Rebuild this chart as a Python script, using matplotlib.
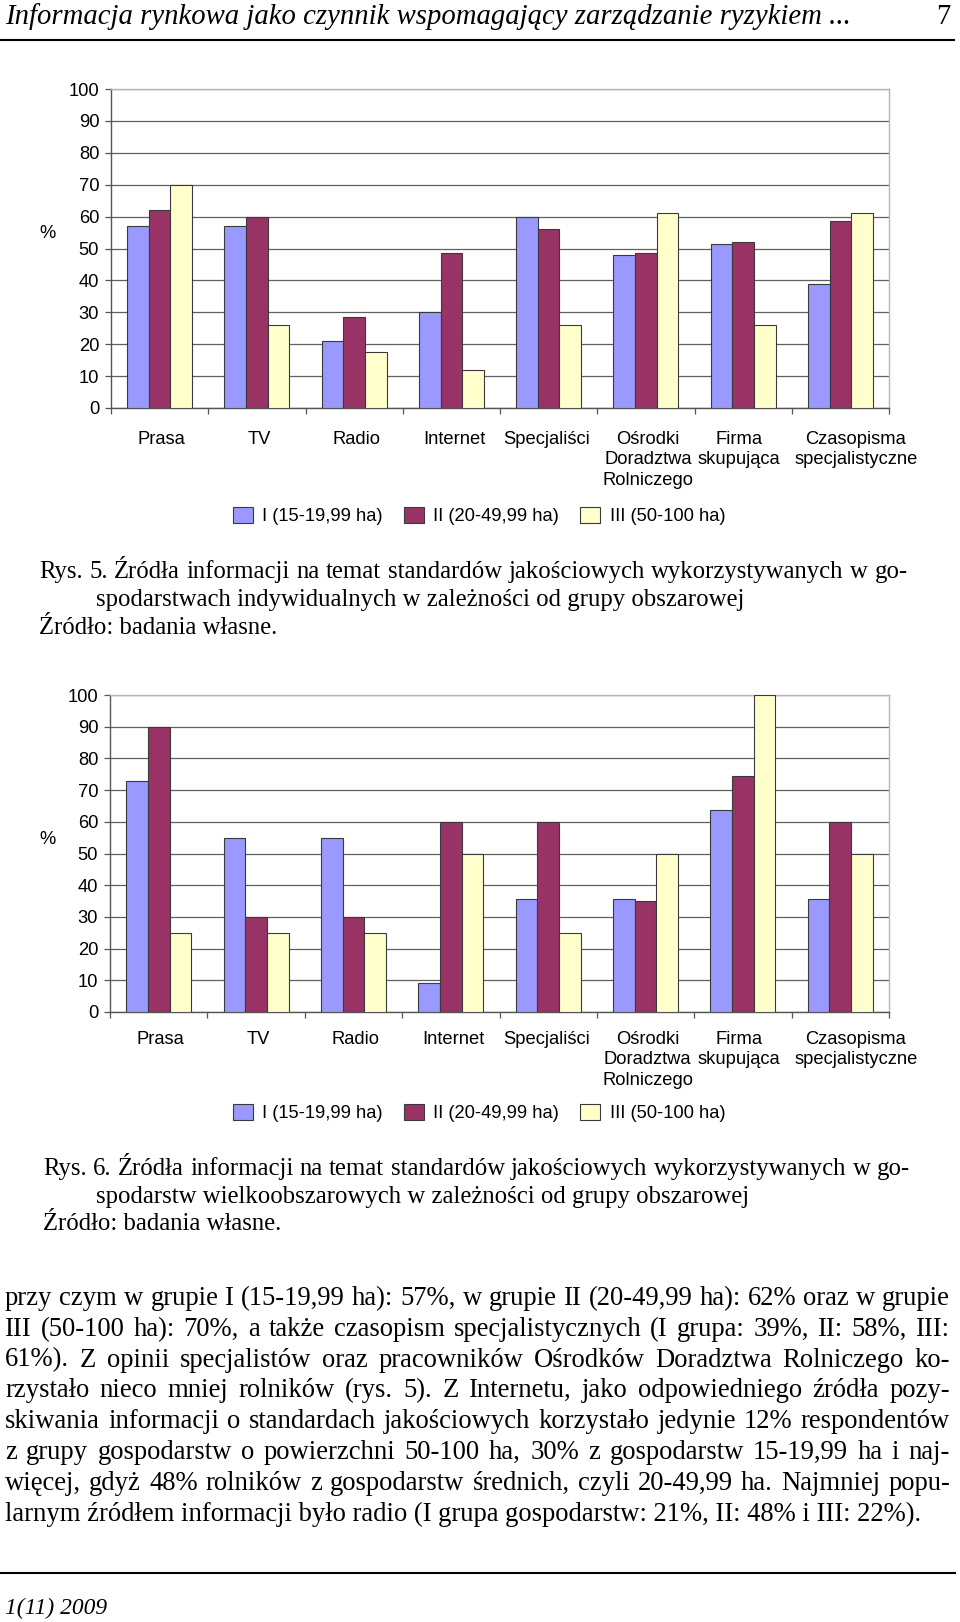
import matplotlib
matplotlib.use('Agg')
import matplotlib.pyplot as plt
import matplotlib.transforms as mtrans
from matplotlib.lines import Line2D
from matplotlib.patches import Patch
import numpy as np

W, H = 960, 1622

kategorie = ['Prasa', 'TV', 'Radio', 'Internet', 'Specjaliści',
             'Ośrodki\nDoradztwa\nRolniczego', 'Firma\nskupująca',
             'Czasopisma\nspecjalistyczne']
grupy = ['I (15-19,99 ha)', 'II (20-49,99 ha)', 'III (50-100 ha)']
kolory = ['#9999ff', '#993366', '#ffffcc']

# Rys. 5 - gospodarstwa indywidualne
rys5_g1 = [57, 57, 21, 30, 60, 48, 51.4, 39]
rys5_g2 = [62, 60, 28.5, 48.6, 56, 48.7, 52, 58.5]
rys5_g3 = [70, 26, 17.5, 12, 26, 61, 26, 61]

# Rys. 6 - gospodarstwa wielkoobszarowe
rys6_g1 = [73, 55, 55, 9, 35.5, 35.5, 63.6, 35.5]
rys6_g2 = [90, 30, 30, 60, 60, 35, 74.4, 60]
rys6_g3 = [25, 25, 25, 50, 25, 50, 100, 50]

naglowek = 'Informacja rynkowa jako czynnik wspomagający zarządzanie ryzykiem ...'
stopka = '1(11) 2009'

rys5_podpis = ['Rys. 5. Źródła informacji na temat standardów jakościowych wykorzystywanych w go-',
               'spodarstwach indywidualnych w zależności od grupy obszarowej',
               'Źródło: badania własne.']
rys6_podpis = ['Rys. 6. Źródła informacji na temat standardów jakościowych wykorzystywanych w go-',
               'spodarstw wielkoobszarowych w zależności od grupy obszarowej',
               'Źródło: badania własne.']

tekst = [
    'przy czym w grupie I (15-19,99 ha): 57%, w grupie II (20-49,99 ha): 62% oraz w grupie',
    'III (50-100 ha): 70%, a także czasopism specjalistycznych (I grupa: 39%, II: 58%, III:',
    '61%). Z opinii specjalistów oraz pracowników Ośrodków Doradztwa Rolniczego ko-',
    'rzystało nieco mniej rolników (rys. 5). Z Internetu, jako odpowiedniego źródła pozy-',
    'skiwania informacji o standardach jakościowych korzystało jedynie 12% respondentów',
    'z grupy gospodarstw o powierzchni 50-100 ha, 30% z gospodarstw 15-19,99 ha i naj-',
    'więcej, gdyż 48% rolników z gospodarstw średnich, czyli 20-49,99 ha. Najmniej popu-',
    'larnym źródłem informacji było radio (I grupa gospodarstw: 21%, II: 48% i III: 22%).',
]

SANS = 'Liberation Sans'
SERIF = 'Liberation Serif'
FS = 13.2
# przesuniecie etykiet osi x (px), jak w oryginale Excela
przesun = [2, 2, 2, 3, -2, 2, -4, 15.5]

fig = plt.figure(figsize=(W / 100, H / 100), dpi=100)
r = fig.canvas.get_renderer()


def fx(x):
    return x / W


def fy(y):
    return 1 - y / H


def szer(s, size, style='normal'):
    t = fig.text(0, 0, s, fontsize=size, family=SERIF, style=style)
    w = t.get_window_extent(renderer=r).width
    t.remove()
    return w


def dopasuj(s, width, style='normal'):
    return 10 * width / szer(s, 10, style)


def wiersz(s, x0, y, size, x1=None, style='normal'):
    if x1 is None:
        fig.text(fx(x0), fy(y), s, fontsize=size, family=SERIF, style=style,
                 va='baseline', ha='left')
        return
    slowa = s.split(' ')
    ws = [szer(w, size, style) for w in slowa]
    odst = (x1 - x0 - sum(ws)) / (len(slowa) - 1)
    x = x0
    for w, wi in zip(slowa, ws):
        fig.text(fx(x), fy(y), w, fontsize=size, family=SERIF, style=style,
                 va='baseline', ha='left')
        x += wi + odst


def wykres(x0, x1, y0, y1, s1, s2, s3, leg_y, proc_y, lab_pad):
    ax = fig.add_axes([fx(x0), fy(y1), (x1 - x0) / W, (y1 - y0) / H])
    x = np.arange(len(kategorie))
    w = 1 / 4.5
    for k, vals in enumerate([s1, s2, s3]):
        ax.bar(x + (k - 1) * w, vals, w, color=kolory[k], edgecolor='#3a3a3a',
               linewidth=0.8, zorder=3)
    ax.set_xlim(-0.5, 7.5)
    ax.set_ylim(0, 100)
    ax.set_yticks(range(0, 101, 10))
    ax.set_yticklabels([str(v) for v in range(0, 101, 10)], fontsize=FS, family=SANS)
    ax.yaxis.grid(True, color='#606060', linewidth=0.9)
    ax.set_axisbelow(True)
    ax.set_xticks([])
    for i, (lab, dx) in enumerate(zip(kategorie, przesun)):
        tr = ax.get_xaxis_transform() + mtrans.ScaledTranslation(dx / 100, -lab_pad / 100,
                                                                 fig.dpi_scale_trans)
        ax.text(x[i], 0, lab, transform=tr, ha='center', va='top', fontsize=FS,
                family=SANS, linespacing=1.3)
    ax.set_xticks(np.arange(-0.5, 8, 1), minor=True)
    ax.tick_params(axis='x', which='minor', length=4, width=0.9, color='#555555')
    ax.tick_params(axis='y', length=4, width=0.9, pad=4.5, color='#555555')
    for s in ['top', 'right']:
        ax.spines[s].set_color('#b4b4b4')
        ax.spines[s].set_linewidth(1.0)
    for s in ['left', 'bottom']:
        ax.spines[s].set_color('#555555')
        ax.spines[s].set_linewidth(1.0)
    fig.text(fx(48), fy(proc_y), '%', fontsize=FS, family=SANS, ha='center', va='center')
    uchwyty = [Patch(facecolor=kolory[k], edgecolor='#3a3a3a', linewidth=0.8, label=grupy[k])
               for k in range(3)]
    fig.legend(handles=uchwyty, loc='center', bbox_to_anchor=(fx(479), fy(leg_y)), ncol=3,
               frameon=False, prop={'family': SANS, 'size': FS}, handlelength=1.1,
               handleheight=0.95, handletextpad=0.5, columnspacing=1.15)
    return ax


wykres(111, 889, 89, 408, rys5_g1, rys5_g2, rys5_g3, 516, 234, 22.5)
wykres(110, 889, 695, 1012, rys6_g1, rys6_g2, rys6_g3, 1113, 839, 18.5)

# naglowek i stopka
fs_nag = dopasuj(naglowek, 845, 'italic')
wiersz(naglowek, 5, 24, fs_nag, style='italic')
fig.text(fx(950), fy(24), '7', fontsize=fs_nag, family=SERIF, ha='right', va='baseline')
fig.add_artist(Line2D([0, fx(954)], [fy(40), fy(40)], color='black', lw=1.5))
fig.add_artist(Line2D([0, fx(955)], [fy(1573), fy(1573)], color='black', lw=1.5))
wiersz(stopka, 5, 1614, dopasuj(stopka, 103, 'italic'), style='italic')

# podpisy rysunkow
fs_pod = dopasuj(rys5_podpis[1], 648)
wiersz(rys5_podpis[0], 39, 578, fs_pod, x1=908)
wiersz(rys5_podpis[1], 96, 606, fs_pod)
wiersz(rys5_podpis[2], 39, 634, fs_pod)

wiersz(rys6_podpis[0], 43, 1175, fs_pod, x1=910)
wiersz(rys6_podpis[1], 96, 1203, fs_pod)
wiersz(rys6_podpis[2], 43, 1230, fs_pod)

# tekst glowny
fs_txt = dopasuj(tekst[-1], 919)
for i, linia in enumerate(tekst):
    y = 1305 + i * 30.8
    if i < len(tekst) - 1:
        wiersz(linia, 5, y, fs_txt, x1=950)
    else:
        wiersz(linia, 5, y, fs_txt)

fig.savefig('out.png', dpi=100)
